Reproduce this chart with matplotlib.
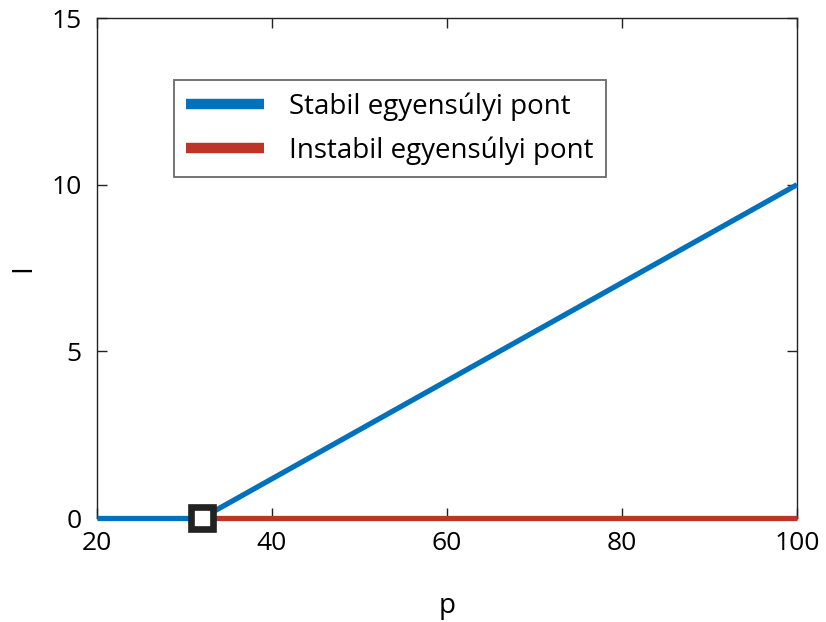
import matplotlib
matplotlib.use("Agg")
import matplotlib.pyplot as plt
import numpy as np

plt.rcParams['font.family'] = ['Open Sans', 'DejaVu Sans']

# data
p_stable_zero = [20, 32]
I_stable_zero = [0, 0]
p_stable_rise = [32, 100]
I_stable_rise = [0, 10]
p_unstable = [32, 100]
I_unstable = [0, 0]
p_bif = [32]
I_bif = [0]
xticks = [20, 40, 60, 80, 100]
yticks = [0, 5, 10, 15]

blue = '#0072BD'
red = '#BE3426'

fig = plt.figure(figsize=(8.26, 6.22), dpi=100)
ax = fig.add_axes([0.1174, 0.1672, 0.8475, 0.8038])

ax.plot(p_stable_zero, I_stable_zero, color=blue, lw=3.8, solid_capstyle='butt', zorder=3,
        clip_on=False)
ax.plot(p_stable_rise, I_stable_rise, color=blue, lw=3.8, solid_capstyle='butt', zorder=3,
        clip_on=False)
ax.plot(p_unstable, I_unstable, color=red, lw=3.8, solid_capstyle='butt', zorder=3,
        clip_on=False)
ax.plot(p_bif, I_bif, marker='s', ms=16.5, mfc='white', mec='#222222', mew=4.8, ls='none',
        zorder=5, clip_on=False)

# legend handles (thicker, as in reference)
h1, = ax.plot([], [], color=blue, lw=7.5, solid_capstyle='butt', label='Stabil egyensúlyi pont')
h2, = ax.plot([], [], color=red, lw=7.5, solid_capstyle='butt', label='Instabil egyensúlyi pont')

ax.set_xlim(20, 100)
ax.set_ylim(0, 15)
ax.set_xticks(xticks)
ax.set_yticks(yticks)
ax.tick_params(direction='in', top=True, right=True, length=7, width=1, labelsize=19,
               colors='#222222', labelcolor='black')
ax.tick_params(axis='y', pad=11)
ax.tick_params(axis='x', pad=9)
for s in ax.spines.values():
    s.set_linewidth(1)
    s.set_color('#222222')

ax.set_xlabel('p', fontsize=20, labelpad=26)
ax.set_ylabel('I', fontsize=20)
ax.yaxis.set_label_coords(-0.085, 0.5)

leg = ax.legend(handles=[h1, h2], loc='upper left', bbox_to_anchor=(0.11, 0.876),
                fontsize=20, frameon=True, fancybox=False, edgecolor='#444444',
                handlelength=2.8, handletextpad=0.9, borderpad=0.45, labelspacing=0.55,
                borderaxespad=0)
leg.get_frame().set_linewidth(1.3)

fig.savefig('out.png', dpi=100)
